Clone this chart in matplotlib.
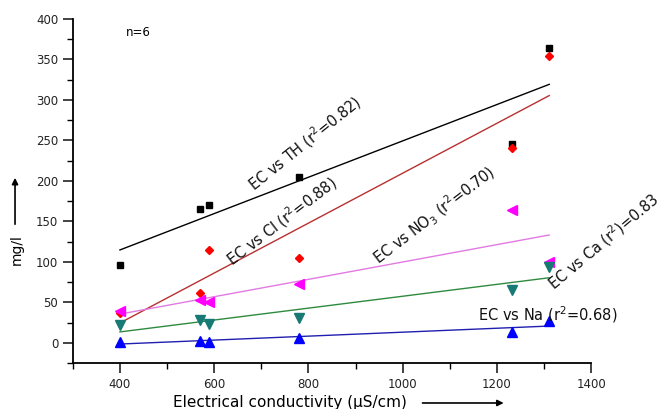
import matplotlib
matplotlib.use('Agg')
import matplotlib.pyplot as plt
from matplotlib.ticker import MultipleLocator
import numpy as np

# electrical conductivity of the six samples (uS/cm)
ec = np.array([400, 569, 588, 779, 1233, 1311])

th = np.array([96, 165, 170, 205, 245, 364])
cl = np.array([37, 61, 114, 104.5, 241, 354])
no3 = np.array([39, 53, 50, 72.5, 164, 100])
ca = np.array([22, 28, 23, 30.5, 65, 94])
na = np.array([1.5, 2.5, 1, 6, 13, 27])

xticks = [400, 600, 800, 1000, 1200, 1400]
yticks = [0, 50, 100, 150, 200, 250, 300, 350, 400]

fig = plt.figure(figsize=(6.62, 4.09), dpi=100)
ax = fig.add_axes([0.110, 0.1125, 0.783, 0.841])

series = [
    (th, 's', 'black', 'black', 5),
    (cl, 'D', 'red', '#b83030', 4.5),
    (no3, '<', '#ff00ff', '#e27ae2', 6.5),
    (ca, 'v', '#187a74', '#2e8a3e', 6.5),
    (na, '^', '#0000ff', '#2020b0', 6.5),
]

xfit = np.array([ec.min(), ec.max()])
for y, m, mc, lc, ms in series:
    k, b = np.polyfit(ec, y, 1)
    ax.plot(xfit, k * xfit + b, '-', color=lc, lw=1.0, zorder=2)
    ax.plot(ec, y, m, color=mc, ms=ms, ls='none', zorder=3)

ax.set_xlim(300, 1400)
ax.set_ylim(-25, 400)
ax.set_xticks(xticks)
ax.set_yticks(yticks)
ax.xaxis.set_minor_locator(MultipleLocator(100))
ax.yaxis.set_minor_locator(MultipleLocator(25))
ax.tick_params(which='major', direction='out', length=7, width=1.2, labelsize=8.5,
               colors='#222222')
ax.tick_params(which='minor', direction='out', length=4, width=1.0)
for s in ['top', 'right']:
    ax.spines[s].set_visible(False)
for s in ['left', 'bottom']:
    ax.spines[s].set_linewidth(1.3)
ax.spines['left'].set_bounds(-25, 400)
ax.spines['bottom'].set_bounds(300, 1400)

lab = dict(fontsize=10.5, ha='center', va='center', color='#111111')
ax.text(440, 383, 'n=6', fontsize=8.5, ha='center', va='center')
ax.text(792, 247, 'EC vs TH (r$^2$=0.82)', rotation=38.8, **lab)
ax.text(743, 150, 'EC vs Cl (r$^2$=0.88)', rotation=37.4, **lab)
ax.text(1067, 157, 'EC vs NO$_3$ (r$^2$=0.70)', rotation=37.5, **lab)
ax.text(1425, 125, 'EC vs Ca (r$^2$)=0.83', rotation=40, **lab)
ax.text(1307, 34.5, 'EC vs Na (r$^2$=0.68)', **lab)

fig.text(0.025, 0.39, 'mg/l', rotation=90, fontsize=10, ha='center', va='center')
fig.text(0.438, 0.0147, 'Electrical conductivity (\u00b5S/cm)', fontsize=11,
         ha='center', va='center')
fig.patches.append(matplotlib.patches.FancyArrowPatch(
    (0.0227, 0.445), (0.0227, 0.572), transform=fig.transFigure,
    arrowstyle='-|>', mutation_scale=9, lw=1.2, color='black'))
fig.patches.append(matplotlib.patches.FancyArrowPatch(
    (0.634, 0.0147), (0.765, 0.0147), transform=fig.transFigure,
    arrowstyle='-|>', mutation_scale=9, lw=1.2, color='black'))

fig.savefig('out.png', dpi=100)
